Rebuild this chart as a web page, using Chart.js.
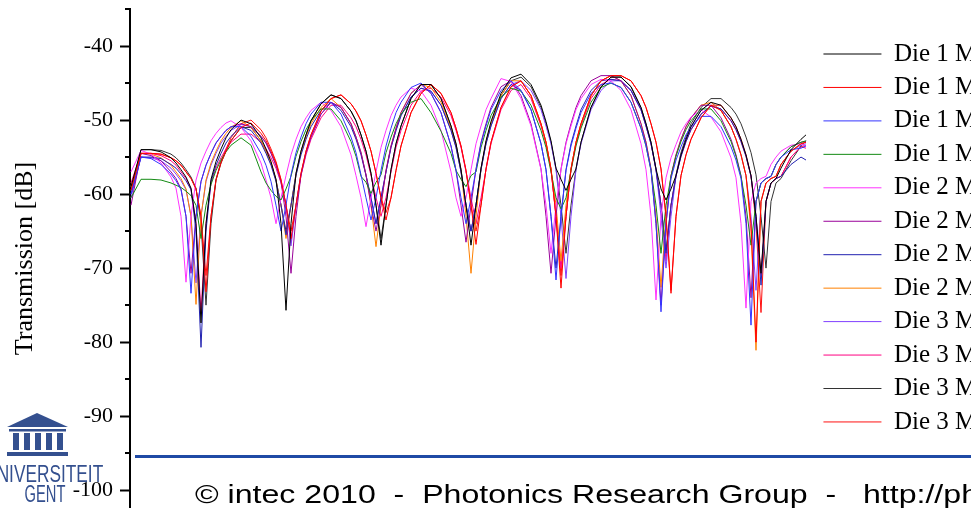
<!DOCTYPE html>
<html><head><meta charset="utf-8">
<script src="https://cdn.jsdelivr.net/npm/chart.js@4.4.1/dist/chart.umd.min.js"></script>
<style>
html,body{margin:0;padding:0;background:#fff;overflow:hidden;}
body{width:971px;height:508px;position:relative;}
#wrap{position:absolute;left:0;top:0;width:990px;height:508px;}
.rule{position:absolute;left:135px;top:455px;width:850px;height:3px;background:#1f4aa5;z-index:2;}
.foot{position:absolute;left:195px;top:481px;font:26px/26px 'Liberation Sans',Arial,sans-serif;white-space:pre;transform:scaleX(1.235);transform-origin:0 0;color:#000;z-index:2;}
.bld{position:absolute;left:0;top:410px;z-index:2;}
.lt{position:absolute;width:171px;text-align:center;color:#34508f;font-family:'Liberation Sans',Arial,sans-serif;white-space:nowrap;z-index:2;}
.lt span{display:inline-block;}
</style>
</head><body>
<div id="wrap"><canvas id="c" width="990" height="508"></canvas></div>
<div class="rule"></div>
<div class="foot">© intec 2010  -  Photonics Research Group  -   http://photonics.intec.ugent.be</div>
<svg class="bld" width="72" height="48" viewBox="0 0 72 48">
<polygon points="7,17 37,3 68,17" fill="#34508f"/>
<rect x="9" y="19" width="57" height="2.5" fill="#34508f"/>
<rect x="13" y="23" width="6" height="17" fill="#34508f"/>
<rect x="24" y="23" width="6" height="17" fill="#34508f"/>
<rect x="35" y="23" width="6" height="17" fill="#34508f"/>
<rect x="46" y="23" width="6" height="17" fill="#34508f"/>
<rect x="57" y="23" width="6" height="17" fill="#34508f"/>
<rect x="7" y="42" width="61" height="4" fill="#34508f"/>
</svg>
<div class="lt" style="left:-41.5px;top:462px;font-size:24px;line-height:24px;"><span style="transform:scaleX(0.72)">UNIVERSITEIT</span></div>
<div class="lt" style="left:-40.5px;top:483px;font-size:23px;line-height:23px;"><span style="transform:scaleX(0.64)">GENT</span></div>
<script>
const wavelength = [
1520, 1520.5, 1521, 1521.5,
1522, 1522.25, 1522.5, 1522.75, 1523, 1523.25, 1523.5, 1523.75, 1524, 1524.25, 1524.5, 1524.75,
1525, 1525.5, 1526, 1526.5,
1526.75, 1527, 1527.25, 1527.5, 1527.75, 1528, 1528.25, 1528.5, 1528.75,
1529, 1529.5, 1530, 1530.5, 1531,
1531.25, 1531.5, 1531.75, 1532, 1532.25, 1532.5, 1532.75, 1533, 1533.25,
1533.5, 1534, 1534.5, 1535, 1535.5,
1536, 1536.25, 1536.5, 1536.75, 1537, 1537.25, 1537.5, 1537.75, 1538,
1538.5, 1539, 1539.5, 1540,
1540.5, 1540.75, 1541, 1541.25, 1541.5, 1541.75, 1542, 1542.25, 1542.5,
1543, 1543.5, 1544, 1544.5, 1545, 1545.5,
1545.75, 1546, 1546.25, 1546.5, 1546.75, 1547, 1547.25, 1547.5, 1547.75,
1548, 1548.5, 1549, 1549.5, 1550,
1550.25, 1550.5, 1550.75, 1551, 1551.25, 1551.5, 1551.75, 1552, 1552.25,
1552.5, 1553, 1553.5, 1553.75];

const die1m1 = [
-59, -54.0, -54.0, -54.3,
-55.1, -55.8, -56.7, -57.7, -59.2, -64, -77.4, -64, -58.0, -55.6, -53.9, -52.4,
-51.3, -50.0, -50.5, -52.4,
-53.9, -55.6, -58.0, -64, -75.7, -64, -57.2, -54.2, -52.0,
-50.1, -47.8, -46.6, -47.1, -48.8,
-50.1, -52.0, -54.2, -57.2, -61.5, -66.9, -61.5, -56.7, -53.2,
-50.8, -47.1, -45.2, -45.2, -47.1,
-50.8, -53.2, -56.7, -61.5, -66.9, -61.5, -56.5, -52.8, -50.2,
-46.4, -44.3, -43.8, -45.2,
-48.0, -50.2, -52.8, -56.5, -58.0, -59.5, -58.0, -56.6, -53.0,
-48.3, -45.5, -44.2, -44.2, -45.5, -48.3,
-50.5, -53.0, -56.6, -59.3, -60.8, -59.3, -57.5, -54.7, -52.6,
-50.9, -48.7, -47.6, -48.0, -49.7,
-50.9, -52.6, -54.7, -57.5, -63, -70.7, -61, -58.5, -57.9,
-56.5, -54.0, -52.6, -52.0];

const die1m2 = [
-59.5, -54.5, -54.5, -54.6,
-55.1, -55.5, -56.1, -57.0, -57.9, -59.3, -63, -73.2, -63, -58.1, -55.8, -54.2,
-52.8, -51.0, -50.4, -51.8,
-52.8, -54.2, -55.8, -58.1, -61.5, -66, -61.5, -57.2, -54.2,
-52.0, -48.8, -47.1, -46.6, -47.8,
-48.8, -50.1, -52.0, -54.2, -57.2, -60.5, -63.5, -60.5, -56.8,
-53.5, -49.0, -46.4, -45.2, -46.4,
-49.0, -51.1, -53.5, -56.8, -61.5, -66.8, -61.5, -56.6, -53.0,
-48.3, -45.5, -44.7, -46.7,
-50.5, -53.0, -56.6, -63, -72.7, -63, -56.6, -53.0, -50.5,
-46.7, -44.7, -44.0, -44.0, -44.7, -46.7,
-48.3, -50.5, -53.0, -56.6, -63, -73.4, -63, -57.5, -54.7,
-52.6, -49.7, -48.0, -48.7, -50.9,
-52.6, -54.7, -57.5, -64, -80, -61, -58.5, -57.9, -57.6,
-56.0, -54.2, -53.2, -53.0];

const die1m3 = [
-60, -55.0, -55.2, -56.0,
-57.3, -58.2, -59.4, -63, -73.4, -63, -58.3, -56.1, -54.5, -53.1, -52.2, -51.4,
-50.9, -50.9, -52.2, -54.5,
-56.1, -58.3, -61.5, -65, -61.5, -57.4, -54.4, -52.3, -50.5,
-49.2, -47.6, -47.6, -49.2, -52.3,
-54.4, -57.4, -60.5, -63.5, -60.5, -56.8, -53.5, -51.1, -49.0,
-47.6, -45.6, -45.0, -46.4, -49.0,
-53.5, -56.8, -60.5, -64, -60.5, -56.7, -53.2, -50.8, -48.6,
-46.0, -44.7, -46.0, -48.6,
-53.2, -56.7, -63, -71.6, -63, -56.8, -53.5, -51.1, -49.0,
-46.4, -45.2, -45.0, -45.6, -47.6, -51.1,
-53.5, -56.8, -64, -75.9, -64, -57.9, -55.4, -53.6, -52.0,
-50.9, -49.5, -49.5, -50.9, -53.6,
-55.4, -57.9, -64, -77.7, -61, -58.5, -57.9, -57.6, -56.0,
-55.0, -54.0, -53.8, -53.5];

const die1m4 = [
-60.5, -58.0, -58.0, -58.1,
-58.5, -58.8, -59.1, -59.6, -60.2, -61.5, -66, -61.5, -58.7, -56.8, -55.4, -54.3,
-53.4, -52.4, -53.4, -57.0,
-58.5, -59.5, -60.3, -60.8, -59.3, -57.6, -54.9, -52.9, -51.3,
-50.1, -48.5, -48.5, -50.1, -52.9,
-54.9, -57.6, -58.4, -59.9, -58.4, -57.4, -54.4, -52.3, -50.5,
-49.2, -47.6, -47.1, -49.0, -51.5,
-54.5, -56.8, -58.0, -59, -57.5, -57.0, -53.7, -51.4, -49.4,
-46.9, -45.7, -46.1, -48.0,
-51.4, -53.7, -57.0, -60.5, -62, -60.5, -56.8, -53.5, -51.1,
-47.6, -45.6, -45.0, -45.6, -47.6, -51.1,
-53.5, -56.8, -61.5, -68, -61.5, -57.6, -54.9, -52.9, -51.3,
-50.1, -48.5, -48.5, -50.1, -52.9,
-54.9, -57.6, -61.5, -66.9, -61, -58.5, -57.9, -57.6, -56.0,
-55.0, -53.6, -53.0, -52.8];

const die2m1 = [
-57, -54.1, -54.6, -55.8,
-57.7, -59.2, -63, -71.9, -63, -58.1, -55.8, -54.2, -52.8, -51.8, -51.0, -50.4,
-50.1, -51.0, -52.8, -55.8,
-58.1, -60.5, -64, -60.5, -57.5, -54.7, -52.6, -50.9, -49.7,
-48.7, -47.6, -48.7, -50.9, -54.7,
-57.5, -60.5, -64.4, -60.5, -57.0, -53.7, -51.4, -49.4, -48.0,
-46.9, -45.7, -46.1, -48.0, -51.4,
-57.0, -60.5, -63, -60.5, -56.7, -53.2, -50.8, -48.6, -47.1,
-44.4, -44.8, -47.1, -50.8,
-56.7, -61.5, -68, -61.5, -56.7, -53.2, -50.8, -48.6, -47.1,
-45.2, -44.5, -44.7, -46.0, -48.6, -53.2,
-56.7, -63, -74.3, -63, -57.8, -55.1, -53.3, -51.6, -50.5,
-49.6, -48.6, -49.6, -51.6, -55.1,
-57.8, -64, -75.4, -61, -58.5, -57.9, -57.6, -56.0, -55.0,
-54.2, -53.4, -53.2, -53.5];

const die2m2 = [
-61.5, -54.5, -54.8, -55.5,
-57.0, -57.9, -59.3, -63, -70.7, -63, -58.3, -56.1, -54.5, -53.1, -52.2, -51.4,
-50.9, -50.5, -50.9, -52.2,
-53.1, -54.5, -56.1, -58.3, -63, -70.7, -63, -57.4, -54.4,
-52.3, -49.2, -47.6, -48.3, -50.5,
-52.3, -54.4, -57.4, -61.5, -65, -61.5, -56.8, -53.5, -51.1,
-49.0, -46.4, -45.2, -46.4, -49.0,
-53.5, -56.8, -61.5, -66.5, -61.5, -56.6, -53.0, -50.5, -48.3,
-45.5, -44.7, -46.7, -50.5,
-56.6, -63, -70.7, -63, -56.6, -53.0, -50.5, -48.3, -46.7,
-44.7, -44.0, -44.0, -44.7, -46.7, -50.5,
-53.0, -56.6, -64, -75, -64, -57.5, -54.7, -52.6, -50.9,
-49.7, -48.0, -48.0, -49.7, -52.6,
-54.7, -57.5, -63, -74, -61, -58.5, -57.9, -57.6, -56.0,
-55.0, -53.6, -53.0, -52.9];

const die2m3 = [
-60, -55.0, -55.0, -55.2,
-56.0, -56.5, -57.3, -58.2, -59.4, -65, -80.7, -65, -58.3, -56.1, -54.5, -53.1,
-52.2, -50.9, -51.4, -53.1,
-54.5, -56.1, -58.3, -61.5, -65.5, -61.5, -57.5, -54.7, -52.6,
-50.9, -48.7, -47.6, -48.7, -50.9,
-52.6, -54.7, -57.5, -60.5, -64, -60.5, -57.0, -53.7, -51.4,
-49.4, -46.9, -45.7, -46.1, -48.0,
-51.4, -53.7, -57.0, -61.5, -65, -61.5, -56.7, -53.2, -50.8,
-47.1, -45.2, -46.0, -48.6,
-53.2, -56.7, -63, -70, -63, -56.7, -53.2, -50.8, -48.6,
-46.0, -44.7, -44.5, -44.7, -46.0, -48.6,
-50.8, -53.2, -56.7, -61.5, -68, -61.5, -57.6, -54.9, -52.9,
-51.3, -49.2, -48.1, -48.5, -50.1,
-51.3, -52.9, -54.9, -57.6, -63, -72.3, -61, -58.5, -57.9,
-57.6, -56.0, -55.0, -55.4];

const die2m4 = [
-59, -54.5, -54.6, -55.1,
-56.1, -57.0, -57.9, -59.3, -63, -74.9, -63, -58.1, -55.8, -54.2, -52.8, -51.8,
-51.0, -50.1, -51.0, -52.8,
-54.2, -55.8, -58.1, -61.5, -66, -61.5, -57.4, -54.4, -52.3,
-50.5, -48.3, -47.1, -48.3, -50.5,
-52.3, -54.4, -57.4, -61.5, -67.1, -61.5, -56.8, -53.5, -51.1,
-49.0, -46.4, -45.2, -45.6, -47.6,
-51.1, -53.5, -56.8, -63, -70.7, -63, -56.6, -53.0, -50.5,
-46.7, -44.7, -44.7, -46.7,
-50.5, -53.0, -56.6, -61.5, -69, -61.5, -56.6, -53.0, -50.5,
-46.7, -44.7, -44.0, -44.7, -46.7, -50.5,
-53.0, -56.6, -63, -72.6, -63, -57.5, -54.7, -52.6, -50.9,
-49.7, -48.0, -47.6, -48.7, -50.9,
-52.6, -54.7, -57.5, -65, -81.1, -61, -58.5, -57.9, -57.6,
-56.0, -54.2, -53.2, -53.0];

const die3m1 = [
-60.5, -55.0, -55.1, -55.5,
-56.5, -57.3, -58.2, -59.4, -63, -72, -63, -58.3, -56.1, -54.5, -53.1, -52.2,
-51.4, -50.6, -50.9, -52.2,
-53.1, -54.5, -56.1, -58.3, -61.5, -67, -61.5, -57.4, -54.4,
-52.3, -49.2, -47.6, -48.3, -50.5,
-52.3, -54.4, -57.4, -60.5, -64, -60.5, -57.0, -53.7, -51.4,
-49.4, -46.9, -45.7, -46.1, -48.0,
-51.4, -53.7, -57.0, -61.5, -65, -61.5, -56.7, -53.2, -50.8,
-47.1, -45.2, -44.7, -46.0,
-48.6, -50.8, -53.2, -56.7, -63, -71.4, -63, -56.7, -53.2,
-48.6, -46.0, -44.7, -44.7, -46.0, -48.6,
-50.8, -53.2, -56.7, -63, -70, -63, -57.5, -54.7, -52.6,
-50.9, -48.7, -47.6, -48.7, -50.9,
-52.6, -54.7, -57.5, -63, -73, -61, -58.5, -57.9, -57.6,
-56.0, -54.2, -53.4, -53.2];

const die3m2 = [
-58.5, -54.5, -54.5, -54.8,
-55.5, -56.1, -57.0, -57.9, -59.3, -64, -76, -64, -58.5, -56.5, -55.1, -53.9,
-53.0, -51.9, -51.9, -53.0,
-53.9, -55.1, -56.5, -58.5, -61.5, -66.5, -61.5, -57.5, -54.7,
-52.6, -49.7, -48.0, -48.0, -49.7,
-50.9, -52.6, -54.7, -57.5, -60.5, -63, -60.5, -57.0, -53.7,
-51.4, -48.0, -46.1, -45.7, -46.9,
-49.4, -51.4, -53.7, -57.0, -60.5, -64, -60.5, -56.7, -53.2,
-48.6, -46.0, -45.2, -47.1,
-50.8, -53.2, -56.7, -63, -70, -63, -56.7, -53.2, -50.8,
-47.1, -45.2, -44.5, -44.7, -46.0, -48.6,
-50.8, -53.2, -56.7, -61.5, -69, -61.5, -57.6, -54.9, -52.9,
-51.3, -49.2, -48.1, -48.5, -50.1,
-51.3, -52.9, -54.9, -57.6, -63, -71, -61, -58.5, -57.9,
-57.6, -55.0, -53.6, -53.8];

const die3m3 = [
-59.5, -54.0, -54.0, -54.1,
-54.6, -55.1, -55.8, -56.7, -57.7, -59.2, -64, -75, -64, -58.1, -55.8, -54.2,
-52.8, -51.0, -51.0, -52.8,
-54.2, -55.8, -58.1, -61.5, -65, -61.5, -57.2, -54.2, -52.0,
-50.1, -47.8, -46.6, -47.1, -48.8,
-50.1, -52.0, -54.2, -57.2, -61.5, -66, -61.5, -56.7, -53.2,
-50.8, -47.1, -45.2, -45.2, -47.1,
-50.8, -53.2, -56.7, -61.5, -65, -61.5, -56.6, -53.0, -50.5,
-46.7, -44.7, -44.2, -45.5,
-48.3, -50.5, -53.0, -56.6, -61.5, -68, -61.5, -56.6, -53.0,
-48.3, -45.5, -44.2, -44.2, -45.5, -48.3,
-50.5, -53.0, -56.6, -61.5, -67.6, -61.5, -57.4, -54.4, -52.3,
-50.5, -48.3, -47.1, -47.1, -48.3,
-49.2, -50.5, -52.3, -54.4, -57.4, -63, -70, -61, -58.5,
-57.9, -55.5, -53.5, -52.8];

const die3m4 = [
-59, -54.5, -54.5, -54.6,
-55.1, -55.5, -56.1, -57.0, -57.9, -59.3, -63, -71, -63, -58.0, -55.6, -53.9,
-52.4, -50.5, -50.0, -51.3,
-52.4, -53.9, -55.6, -58.0, -61.5, -65, -61.5, -57.2, -54.2,
-52.0, -48.8, -47.1, -46.6, -47.8,
-48.8, -50.1, -52.0, -54.2, -57.2, -60.5, -62.5, -60.5, -56.8,
-53.5, -49.0, -46.4, -45.2, -46.4,
-49.0, -51.1, -53.5, -56.8, -61.5, -65, -61.5, -56.6, -53.0,
-48.3, -45.5, -44.7, -46.7,
-50.5, -53.0, -56.6, -63, -71, -63, -56.6, -53.0, -50.5,
-46.7, -44.7, -44.0, -44.0, -44.7, -46.7,
-48.3, -50.5, -53.0, -56.6, -63, -73, -63, -57.5, -54.7,
-52.6, -49.7, -48.0, -48.0, -49.7,
-50.9, -52.6, -54.7, -57.5, -64, -76, -61, -58.5, -57.9,
-57.6, -55.0, -53.6, -53.4];

const seriesLabels = ['Die 1 MZI 1','Die 1 MZI 2','Die 1 MZI 3','Die 1 MZI 4',
                      'Die 2 MZI 1','Die 2 MZI 2','Die 2 MZI 3','Die 2 MZI 4',
                      'Die 3 MZI 1','Die 3 MZI 2','Die 3 MZI 3','Die 3 MZI 4'];
const seriesValues = [die1m1, die1m2, die1m3, die1m4, die2m1, die2m2, die2m3, die2m4, die3m1, die3m2, die3m3, die3m4];
const seriesColors = ['#000000','#ff0000','#3333ff','#138a13','#ff33ff','#990099',
                      '#2222b0','#ff8000','#8040ff','#ff0080','#333333','#ff1010'];
const yMajorTicks = [-100, -90, -80, -70, -60, -50, -40];
const yMinorTicks = [-95, -85, -75, -65, -55, -45, -35];

const serif = "'Liberation Serif','Times New Roman',serif";
Chart.defaults.font.family = serif;
Chart.defaults.color = '#000';

const minorTickPlugin = {
  id: 'minorTicks',
  afterDraw(chart) {
    const s = chart.scales.y, ctx = chart.ctx;
    ctx.save();
    ctx.strokeStyle = '#000';
    ctx.lineWidth = 2;
    yMinorTicks.forEach(v => {
      const y = Math.round(s.getPixelForValue(v));
      ctx.beginPath();
      ctx.moveTo(s.right - 5, y);
      ctx.lineTo(s.right, y);
      ctx.stroke();
    });
    ctx.restore();
  }
};

new Chart(document.getElementById('c'), {
  type: 'line',
  data: {
    datasets: seriesValues.map((vals, i) => ({
      label: seriesLabels[i],
      data: vals.map((v, j) => ({x: wavelength[j], y: v})),
      borderColor: seriesColors[i],
      backgroundColor: seriesColors[i],
      borderWidth: 1,
      pointRadius: 0,
      tension: 0,
      fill: false
    }))
  },
  options: {
    responsive: false,
    animation: false,
    events: [],
    layout: {padding: {top: 9, left: 0, right: 0, bottom: 0}},
    plugins: {
      tooltip: {enabled: false},
      legend: {
        position: 'right',
        align: 'start',
        maxWidth: 175,
        title: {display: true, text: '', font: {size: 12}, padding: {top: 9.65, bottom: 0}},
        labels: {
          usePointStyle: true,
          pointStyle: 'line',
          pointStyleWidth: 58,
          padding: 8.45,
          color: '#000',
          font: {size: 25, family: serif}
        }
      }
    },
    scales: {
      x: {type: 'linear', display: false, min: 1519.95, max: 1554.2, ticks: {display: false}},
      y: {
        type: 'linear',
        min: -102.4,
        max: -35,
        afterBuildTicks: s => { s.ticks = yMajorTicks.map(v => ({value: v})); },
        afterFit: s => { s.width = 130; s.paddingTop = 0; s.paddingBottom = 0; },
        ticks: {color: '#000', padding: 7, autoSkip: false, font: {size: 22, family: serif}, callback: v => String(v)},
        grid: {drawOnChartArea: false, drawTicks: true, tickLength: 10, tickWidth: 2, tickColor: '#000'},
        border: {display: true, color: '#000', width: 2},
        title: {display: true, text: 'Transmission [dB]', color: '#000', font: {size: 26, family: serif}, padding: {top: 9.4, bottom: 0}}
      }
    }
  },
  plugins: [minorTickPlugin]
});
</script>
</body></html>
